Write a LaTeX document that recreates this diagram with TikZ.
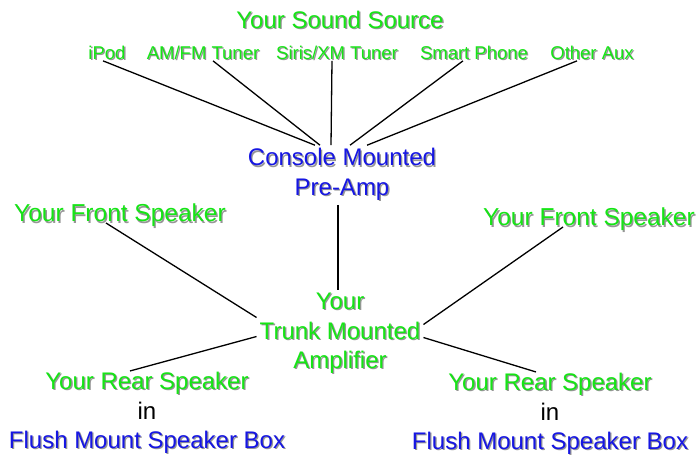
\documentclass[tikz,border=0pt]{standalone}
\usepackage{fontspec}
\setmainfont{Liberation Sans}
\definecolor{srcgreen}{RGB}{22,228,22}
\definecolor{preblue}{RGB}{22,22,226}
\definecolor{shadowgray}{RGB}{150,150,150}
\newcommand{\shd}[1]{\rlap{\kern1.3pt\raisebox{-1.3pt}{\textcolor{shadowgray}{#1}}}#1}
\tikzset{
    bigtext/.style={text=srcgreen, font=\fontsize{24}{29.5}\selectfont, align=center, inner sep=1pt},
    onetext/.style={bigtext, text height=17.3pt, text depth=0pt},
    smalltext/.style={text=srcgreen, font=\fontsize{18.5}{22}\selectfont, inner sep=1pt,
        text height=13.3pt, text depth=0pt},
    wire/.style={draw=black, line width=1.3pt},
}

\begin{document}
\begin{tikzpicture}[x=1pt, y=-1pt]
\useasboundingbox (0,0) rectangle (698,456);
% sources
\node[onetext] (source) at (340,20) {\shd{Your Sound Source}};
\node[smalltext] (ipod) at (107,53) {\shd{iPod}};
\node[smalltext] (amfm) at (203,53) {\shd{AM/FM Tuner}};
\node[smalltext] (siris) at (337,53) {\shd{Siris/XM Tuner}};
\node[smalltext] (phone) at (474,53) {\shd{Smart Phone}};
\node[smalltext] (aux) at (592,53) {\shd{Other Aux}};
\node[bigtext, text=preblue, inner sep=3pt] (preamp) at (342,175) {\shd{Console Mounted}\\\shd{Pre-Amp}};
% speakers
\node[onetext, font=\fontsize{24.5}{29}\selectfont, text height=17.6pt] (frontl) at (120,213) {\shd{Your Front Speaker}};
\node[onetext, font=\fontsize{24.5}{29}\selectfont, text height=17.6pt] (frontr) at (589,217) {\shd{Your Front Speaker}};
\node[bigtext, inner sep=3pt] (amp) at (340,334) {\shd{Your}\\\shd{Trunk Mounted}\\\shd{Amplifier}};
\node[bigtext] (rearl) at (147,413.5) {\shd{Your Rear Speaker}\\\textcolor{black}{in}\\\textcolor{preblue}{\shd{Flush Mount Speaker Box}}};
\node[bigtext] (rearr) at (550,414.5) {\shd{Your Rear Speaker}\\\textcolor{black}{in}\\\textcolor{preblue}{\shd{Flush Mount Speaker Box}}};
\draw[wire] ([xshift=-4pt]ipod.south) -- ([xshift=-27pt]preamp.north);
\draw[wire] ([xshift=10pt]amfm.south) -- ([xshift=-22pt]preamp.north);
\draw[wire] ([xshift=-5pt]siris.south) -- ([xshift=-11pt]preamp.north);
\draw[wire] ([xshift=-11pt]phone.south) -- ([xshift=8pt]preamp.north);
\draw[wire] ([xshift=-15pt]aux.south) -- ([xshift=25pt]preamp.north);
\draw[wire] ([xshift=-4pt]preamp.south) -- ([xshift=-2pt]amp.north);
\draw[wire] ([xshift=-14pt]frontl.south) -- ([yshift=16.5pt]amp.west);
\draw[wire] ([xshift=-26pt]frontr.south) -- ([yshift=9.5pt]amp.east);
\draw[wire] ([yshift=-2.5pt]amp.west) -- ([xshift=-17pt]rearl.north);
\draw[wire] ([yshift=-3.5pt]amp.east) -- ([xshift=-14pt]rearr.north);
\end{tikzpicture}
\end{document}
